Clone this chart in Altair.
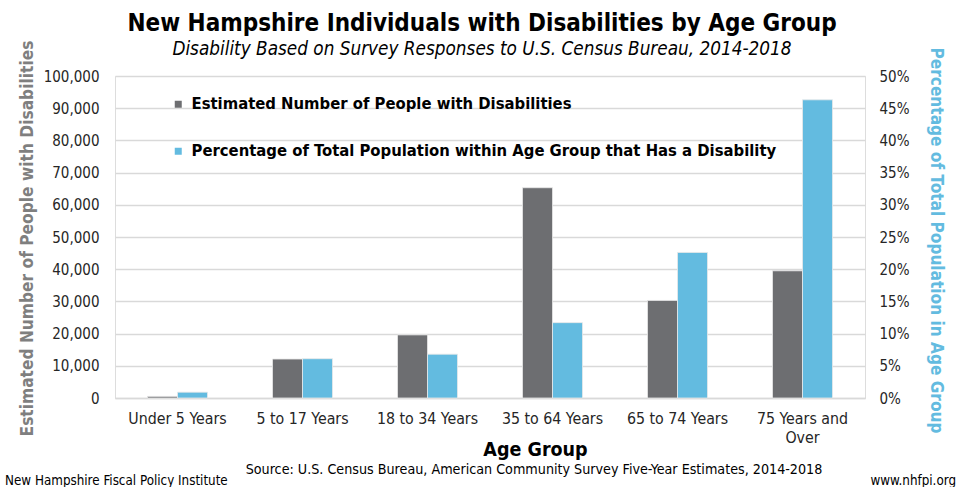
import altair as alt
import pandas as pd

# Age groups and the two measured series
age_groups = ["Under 5 Years", "5 to 17 Years", "18 to 34 Years",
              "35 to 64 Years", "65 to 74 Years", "75 Years and Over"]
people_with_disability = [500, 12100, 19600, 65300, 30300, 39500]
share_with_disability = [0.009, 0.061, 0.068, 0.117, 0.226, 0.463]

series_names = ["Estimated Number of People with Disabilities",
                "Percentage of Total Population within Age Group that Has a Disability"]
series_colors = ["#6d6e71", "#63bbe0"]

count_ticks = list(range(0, 100001, 10000))
share_ticks = [i / 100 for i in range(0, 51, 5)]

title_text = "New Hampshire Individuals with Disabilities by Age Group"
subtitle_text = "Disability Based on Survey Responses to U.S. Census Bureau, 2014-2018"
source_text = "Source: U.S. Census Bureau, American Community Survey Five-Year Estimates, 2014-2018"
org_text = "New Hampshire Fiscal Policy Institute"
url_text = "www.nhfpi.org"

FONT = "DejaVu Sans Condensed"
W, H = 750, 322

count_df = pd.DataFrame({"age": age_groups, "value": people_with_disability,
                         "series": series_names[0]})
share_df = pd.DataFrame({"age": age_groups, "value": share_with_disability,
                         "series": series_names[1]})

x_enc = alt.X(
    "age:N", sort=age_groups,
    scale=alt.Scale(domain=age_groups, paddingInner=0.52, paddingOuter=0.26),
    axis=alt.Axis(
        title="Age Group", titleFont=FONT, titleFontSize=19.5, titleFontWeight="bold",
        titleColor="#000000", titleX=420, titleY=57, titleBaseline="alphabetic",
        labelExpr="datum.label == '75 Years and Over' ? ['75 Years and', 'Over'] : datum.label",
        labelFont=FONT, labelFontSize=15.8, labelColor="#262626", labelPadding=13,
        labelLineHeight=19, labelAngle=0,
        ticks=False, domainColor="#d9d9d9", domainWidth=1.5, grid=False,
    ),
)
xoff_enc = alt.XOffset("series:N", scale=alt.Scale(domain=series_names,
                                                    paddingInner=0, paddingOuter=0))
color_enc = alt.Color(
    "series:N",
    scale=alt.Scale(domain=series_names, range=series_colors),
    legend=alt.Legend(
        title=None, orient="none", legendX=55, legendY=20,
        symbolType="square", symbolSize=49, symbolStrokeWidth=0,
        labelFont=FONT, labelFontSize=16.5, labelFontWeight="bold", labelColor="#000000",
        labelOffset=5, rowPadding=30, padding=0, labelLimit=700,
    ),
)

count_bars = alt.Chart(count_df).mark_bar(stroke="#e8e8e8", strokeWidth=0.8).encode(
    x=x_enc,
    xOffset=xoff_enc,
    y=alt.Y("value:Q", scale=alt.Scale(domain=[0, 100000]),
            axis=alt.Axis(
                values=count_ticks, format=",.0f", orient="left",
                title="Estimated Number of People with Disabilities",
                titleFont=FONT, titleFontSize=17.2, titleFontWeight="bold",
                titleColor="#7f7f7f", titleX=-88, titleY=H / 2 + 1, titleBaseline="middle",
                titleAngle=-90,
                labelFont=FONT, labelFontSize=15, labelColor="#262626", labelPadding=16,
                ticks=False, domain=False, grid=True, gridColor="#d9d9d9", gridWidth=1.5,
            )),
    color=color_enc,
)

share_bars = alt.Chart(share_df).mark_bar(stroke="#e8e8e8", strokeWidth=0.8).encode(
    x=x_enc,
    xOffset=xoff_enc,
    y=alt.Y("value:Q", scale=alt.Scale(domain=[0, 0.5]),
            axis=alt.Axis(
                values=share_ticks, format=".0%", orient="right",
                title="Percentage of Total Population in Age Group",
                titleFont=FONT, titleFontSize=17.1, titleFontWeight="bold",
                titleColor="#63bbe0", titleX=70, titleY=H / 2 + 3, titleBaseline="middle",
                titleAngle=90,
                labelFont=FONT, labelFontSize=15, labelColor="#262626", labelPadding=14,
                ticks=False, domain=False, grid=False,
            )),
    color=color_enc,
)

source_note = alt.Chart(pd.DataFrame({"t": [source_text]})).mark_text(
    font=FONT, fontSize=14.2, align="center", baseline="alphabetic", color="#000000"
).encode(text="t:N", x=alt.value(419), y=alt.value(398))

org_note = alt.Chart(pd.DataFrame({"t": [org_text]})).mark_text(
    font=FONT, fontSize=13.3, align="left", baseline="alphabetic", color="#000000"
).encode(text="t:N", x=alt.value(-110), y=alt.value(409))

url_note = alt.Chart(pd.DataFrame({"t": [url_text]})).mark_text(
    font=FONT, fontSize=13.3, align="right", baseline="alphabetic", color="#000000"
).encode(text="t:N", x=alt.value(841), y=alt.value(409))

chart = alt.layer(count_bars, share_bars, source_note, org_note, url_note).resolve_scale(
    y="independent"
).properties(
    width=W, height=H,
    autosize=alt.AutoSizeParams(type="none"),
    padding={"left": 115, "top": 76, "right": 95, "bottom": 89},
    title=alt.TitleParams(
        text=title_text, subtitle=subtitle_text,
        font=FONT, fontSize=24, fontWeight="bold", color="#000000",
        subtitleFont=FONT, subtitleFontSize=18.8, subtitleFontStyle="italic",
        subtitleColor="#000000", subtitlePadding=4,
        anchor="middle", dx=-8, offset=-19,
    ),
).configure_view(stroke=None).configure(background="#ffffff")

chart.save("out.html", embed_options={"renderer": "svg", "actions": False})
